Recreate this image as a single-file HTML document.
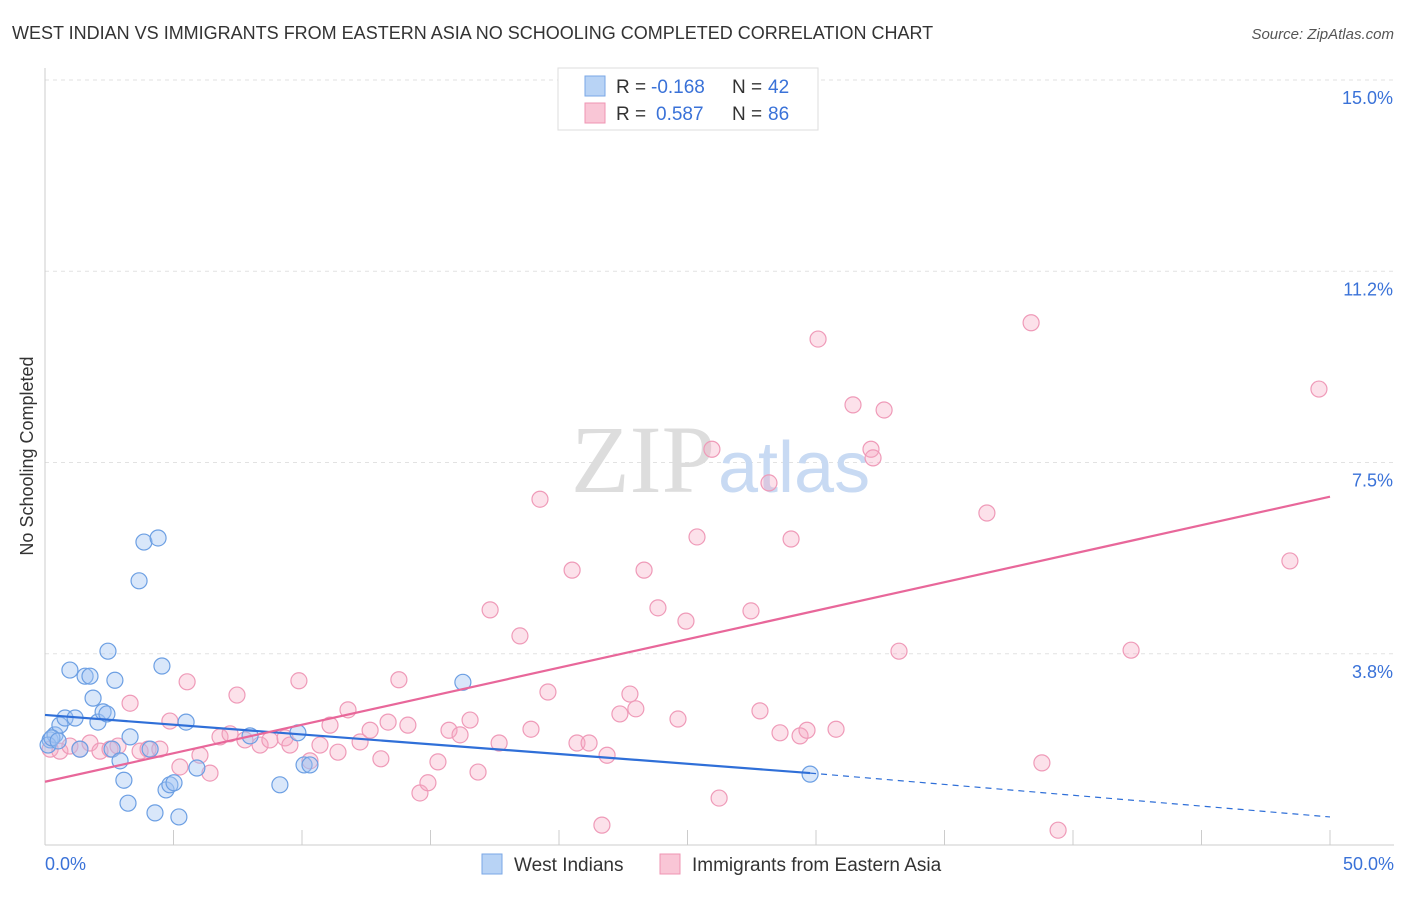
<!DOCTYPE html>
<html><head><meta charset="utf-8"><style>
body{margin:0;background:#fff;font-family:"Liberation Sans",sans-serif}
</style></head><body>
<svg width="1406" height="892" xmlns="http://www.w3.org/2000/svg">
<text x="12" y="39" font-size="18" fill="#333">WEST INDIAN VS IMMIGRANTS FROM EASTERN ASIA NO SCHOOLING COMPLETED CORRELATION CHART</text>
<text x="1394" y="39" font-size="15" fill="#555" font-style="italic" text-anchor="end">Source: ZipAtlas.com</text>
<g id="grid"></g>
<line x1="45" y1="68" x2="45" y2="845" stroke="#ccc"/>
<line x1="45" y1="845" x2="1394" y2="845" stroke="#ccc"/>
<g id="ticks"></g>
<g id="ylabels"></g>
<text x="45" y="870" font-size="18" fill="#3a72d8">0.0%</text>
<text x="1394" y="870" font-size="18" fill="#3a72d8" text-anchor="end">50.0%</text>
<text transform="translate(33,456) rotate(-90)" font-size="18" fill="#333" text-anchor="middle">No Schooling Completed</text>
<text x="715" y="492" font-size="96" fill="#ddd" font-family="Liberation Serif" text-anchor="end">ZIP</text>
<text x="718" y="492" font-size="72" fill="#c8daf3">atlas</text>
<g id="pts"></g>
<g id="lines"></g>
<g>
<rect x="558" y="68" width="260" height="62" fill="#fff" stroke="#ddd"/>
<rect x="585" y="76" width="20" height="20" fill="#b8d3f5" stroke="#7aa7e6"/>
<rect x="585" y="103" width="20" height="20" fill="#f9c6d6" stroke="#ef94b3"/>
<text x="616" y="93" font-size="19" fill="#333">R =</text>
<text x="651" y="93" font-size="19" fill="#3a72d8">-0.168</text>
<text x="732" y="93" font-size="19" fill="#333">N =</text>
<text x="768" y="93" font-size="19" fill="#3a72d8">42</text>
<text x="616" y="120" font-size="19" fill="#333">R =</text>
<text x="656" y="120" font-size="19" fill="#3a72d8">0.587</text>
<text x="732" y="120" font-size="19" fill="#333">N =</text>
<text x="768" y="120" font-size="19" fill="#3a72d8">86</text>
</g>
<g>
<rect x="482" y="854" width="20" height="20" fill="#b8d3f5" stroke="#7aa7e6"/>
<text x="514" y="871" font-size="19" fill="#333">West Indians</text>
<rect x="660" y="854" width="20" height="20" fill="#f9c6d6" stroke="#ef94b3"/>
<text x="692" y="871" font-size="19" fill="#333">Immigrants from Eastern Asia</text>
</g>
</svg>
<script>
const yTicks=[3.75,7.5,11.25,15];
const yTickLabels=["3.8%","7.5%","11.2%","15.0%"];
const xTicks=[0,5,10,15,20,25,30,35,40,45,50];
const blueX=[0.2,0.39,0.58,0.78,1.17,0.97,1.56,1.75,1.87,2.06,2.26,2.41,2.45,2.72,2.61,2.92,3.07,3.23,3.31,3.66,3.85,4.4,4.09,4.28,4.55,4.71,4.86,5.02,5.21,5.49,5.91,7.98,9.14,9.84,10.08,10.31,16.26,29.77,0.12,0.27,1.36,0.51];
const blueY=[2.06,2.16,2.35,2.49,2.49,3.43,3.31,3.31,2.88,2.41,2.61,2.57,3.8,3.23,1.88,1.65,1.27,0.82,2.12,5.18,5.94,6.02,1.88,0.63,3.51,1.08,1.18,1.22,0.55,2.41,1.51,2.14,1.18,2.2,1.57,1.57,3.19,1.39,1.96,2.1,1.88,2.04];
const pinkX=[0.2,0.58,0.97,1.36,1.75,2.14,2.53,2.84,3.31,3.7,4.01,4.47,4.86,5.25,5.53,6.03,6.42,6.81,7.2,7.47,7.78,8.37,8.75,9.34,9.53,9.88,10.31,10.7,11.09,11.4,11.79,12.26,12.65,13.07,13.35,13.77,14.12,14.59,14.9,15.29,15.72,16.15,16.54,16.85,17.32,17.67,18.48,18.91,19.26,19.57,20.51,20.7,21.17,21.67,21.87,22.37,22.76,22.99,23.31,23.85,24.63,24.94,25.37,25.95,26.23,27.47,27.82,28.17,28.6,29.03,29.38,29.65,30.08,30.78,31.44,32.14,32.22,32.65,33.23,36.65,38.37,38.79,39.42,42.26,48.44,49.57];
const pinkY=[1.88,1.84,1.94,1.88,2.0,1.84,1.88,1.94,2.78,1.84,1.88,1.88,2.43,1.53,3.2,1.76,1.41,2.12,2.18,2.94,2.06,1.96,2.06,2.1,1.96,3.22,1.65,1.96,2.35,1.82,2.65,2.02,2.25,1.69,2.41,3.24,2.35,1.02,1.22,1.63,2.25,2.16,2.45,1.43,4.61,2.0,4.1,2.27,6.78,3.0,5.39,2.0,2.0,0.39,1.76,2.57,2.96,2.67,5.39,4.65,2.47,4.39,6.04,7.76,0.92,4.59,2.63,7.10,2.2,6.0,2.14,2.25,9.92,2.27,8.63,7.76,7.59,8.53,3.8,6.51,10.24,1.61,0.29,3.82,5.57,8.94];
const blueTrend=[[0,2.55],[29.77,1.41],[50,0.55]];
const pinkTrend=[[0,1.24],[50,6.83]];
const sx=v=>45+v*25.7, sy=v=>845-v*51.0;
const NS="http://www.w3.org/2000/svg";
function mk(t,a,p){const e=document.createElementNS(NS,t);for(const k in a)e.setAttribute(k,a[k]);document.getElementById(p).appendChild(e);return e;}
yTicks.forEach((v,i)=>{
 const l=mk('line',{x1:45,x2:1394,y1:sy(v),y2:sy(v),stroke:'#e2e2e2','stroke-dasharray':'4,4'},'grid');
 
 
 const t=mk('text',{x:1393,y:sy(v)+24,'font-size':18,fill:'#3a72d8','text-anchor':'end'},'ylabels');
 t.textContent=yTickLabels[i];
 
 
});
xTicks.forEach(v=>{const l=mk('line',{x1:sx(v),x2:sx(v),y1:830,y2:845,stroke:'#ccc'},'ticks');
 
 });
pinkX.forEach((x,i)=>{const c=mk('circle',{cx:sx(x),cy:sy(pinkY[i]),r:8,fill:'rgba(246,170,196,0.35)',stroke:'#ef9ab8','stroke-width':1.2},'pts');
 
 });
blueX.forEach((x,i)=>{const c=mk('circle',{cx:sx(x),cy:sy(blueY[i]),r:8,fill:'rgba(160,196,242,0.4)',stroke:'#6c9fe3','stroke-width':1.2},'pts');
 
 });
const b=mk('line',{x1:sx(blueTrend[0][0]),y1:sy(blueTrend[0][1]),x2:sx(blueTrend[1][0]),y2:sy(blueTrend[1][1]),stroke:'#2f6fd8','stroke-width':2.2},'lines');


const bd=mk('line',{x1:sx(blueTrend[1][0]),y1:sy(blueTrend[1][1]),x2:sx(blueTrend[2][0]),y2:sy(blueTrend[2][1]),stroke:'#2f6fd8','stroke-width':1.2,'stroke-dasharray':'6,5'},'lines');


const pl=mk('line',{x1:sx(pinkTrend[0][0]),y1:sy(pinkTrend[0][1]),x2:sx(pinkTrend[1][0]),y2:sy(pinkTrend[1][1]),stroke:'#e8679a','stroke-width':2.2},'lines');


const topGrid=mk('line',{x1:45,x2:1394,y1:sy(15),y2:sy(15),stroke:'#e2e2e2','stroke-dasharray':'4,4'},'grid');


</script>
</body></html>
